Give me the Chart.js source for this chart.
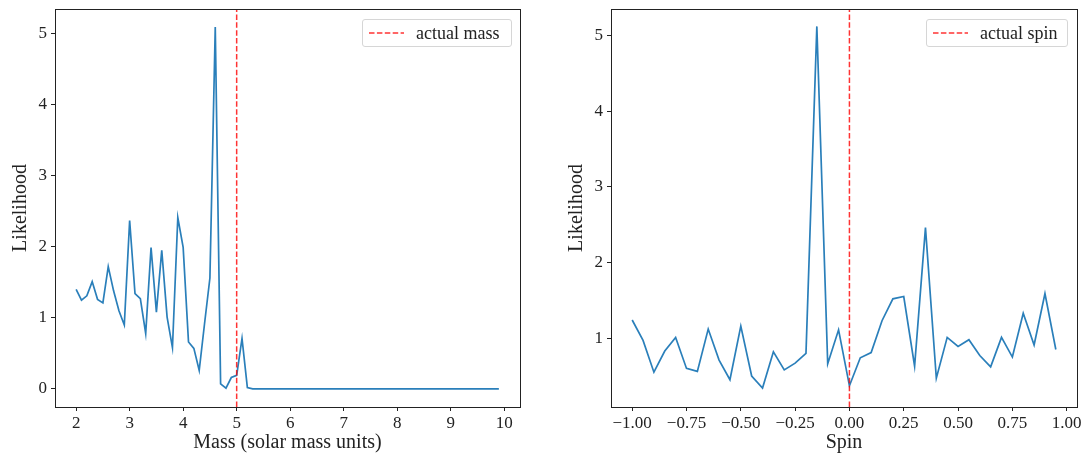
<!DOCTYPE html>
<html>
<head>
<meta charset="utf-8">
<script src="https://cdn.jsdelivr.net/npm/chart.js@4.4.1/dist/chart.umd.min.js"></script>
<style>
  body { margin: 0; background: #fff; }
  #wrap { position: relative; width: 1084px; height: 457px; overflow: hidden; }
  canvas { position: absolute; top: 0; }
  .legend {
    position: absolute; height: 28px; box-sizing: border-box;
    border: 1px solid #d6d6d6; border-radius: 3px; background: rgba(255,255,255,0.8);
    font-family: "Liberation Serif", serif; font-size: 18px; color: #222;
    display: flex; align-items: center; padding: 0 7px 0 6px; white-space: nowrap;
  }
  .legend svg { margin-right: 12px; }
</style>
</head>
<body>
<div id="wrap">
  <canvas id="massChart" width="540" height="457" style="left:0"></canvas>
  <canvas id="spinChart" width="544" height="457" style="left:540px"></canvas>
  <div class="legend" style="left:362px; top:19px; width:150px;">
    <svg width="35" height="4"><line x1="0" y1="2" x2="35" y2="2" stroke="rgba(255,0,0,0.8)" stroke-width="1.5" stroke-dasharray="5.5 2.4"/></svg>actual mass
  </div>
  <div class="legend" style="left:926px; top:19px; width:142px;">
    <svg width="35" height="4"><line x1="0" y1="2" x2="35" y2="2" stroke="rgba(255,0,0,0.8)" stroke-width="1.5" stroke-dasharray="5.5 2.4"/></svg>actual spin
  </div>
</div>
<script>
// mass grid (solar mass units)
const massValues = [
  2.0, 2.1, 2.2, 2.3, 2.4, 2.5, 2.6, 2.7, 2.8, 2.9,
  3.0, 3.1, 3.2, 3.3, 3.4, 3.5, 3.6, 3.7, 3.8, 3.9,
  4.0, 4.1, 4.2, 4.3, 4.4, 4.5, 4.6, 4.7, 4.8, 4.9,
  5.0, 5.1, 5.2, 5.3, 5.4, 5.5, 5.6, 5.7, 5.8, 5.9,
  6.0, 6.1, 6.2, 6.3, 6.4, 6.5, 6.6, 6.7, 6.8, 6.9,
  7.0, 7.1, 7.2, 7.3, 7.4, 7.5, 7.6, 7.7, 7.8, 7.9,
  8.0, 8.1, 8.2, 8.3, 8.4, 8.5, 8.6, 8.7, 8.8, 8.9,
  9.0, 9.1, 9.2, 9.3, 9.4, 9.5, 9.6, 9.7, 9.8, 9.9
];
const massLikelihood = [
  1.40, 1.25, 1.31, 1.51, 1.26, 1.21, 1.72, 1.38, 1.10, 0.90,
  2.37, 1.34, 1.27, 0.78, 1.99, 1.08, 1.95, 1.01, 0.58, 2.41,
  1.99, 0.66, 0.57, 0.26, 0.92, 1.56, 5.09, 0.07, 0.01, 0.16,
  0.19, 0.71, 0.02, 0.00, 0.00, 0.00, 0.00, 0.00, 0.00, 0.00,
  0.00, 0.00, 0.00, 0.00, 0.00, 0.00, 0.00, 0.00, 0.00, 0.00,
  0.00, 0.00, 0.00, 0.00, 0.00, 0.00, 0.00, 0.00, 0.00, 0.00,
  0.00, 0.00, 0.00, 0.00, 0.00, 0.00, 0.00, 0.00, 0.00, 0.00,
  0.00, 0.00, 0.00, 0.00, 0.00, 0.00, 0.00, 0.00, 0.00, 0.00
];
const spinValues = [
  -1.00, -0.95, -0.90, -0.85, -0.80, -0.75, -0.70, -0.65, -0.60, -0.55,
  -0.50, -0.45, -0.40, -0.35, -0.30, -0.25, -0.20, -0.15, -0.10, -0.05,
  0.00, 0.05, 0.10, 0.15, 0.20, 0.25, 0.30, 0.35, 0.40, 0.45,
  0.50, 0.55, 0.60, 0.65, 0.70, 0.75, 0.80, 0.85, 0.90, 0.95
];
const spinLikelihood = [
  1.24, 0.97, 0.55, 0.83, 1.01, 0.60, 0.56, 1.12, 0.71, 0.45,
  1.16, 0.50, 0.34, 0.82, 0.58, 0.67, 0.80, 5.12, 0.66, 1.11,
  0.37, 0.74, 0.81, 1.23, 1.52, 1.55, 0.63, 2.46, 0.47, 1.01,
  0.89, 0.98, 0.77, 0.62, 1.01, 0.75, 1.33, 0.91, 1.59, 0.85
];

const actualMass = 5;
const actualSpin = 0;

const massXTicks = [2, 3, 4, 5, 6, 7, 8, 9, 10];
const massYTicks = [0, 1, 2, 3, 4, 5];
const spinXTicks = [-1.0, -0.75, -0.5, -0.25, 0, 0.25, 0.5, 0.75, 1.0];
const spinYTicks = [1, 2, 3, 4, 5];

const FONT = "'Liberation Serif', serif";
const INK = "#222";

// draws the top and right spines
const framePlugin = {
  id: "frame",
  afterDraw(chart) {
    const { ctx, chartArea: a } = chart;
    ctx.save();
    ctx.strokeStyle = INK;
    ctx.lineWidth = 1;
    ctx.strokeRect(Math.round(a.left) + 0.5, Math.round(a.top) + 0.5,
      Math.round(a.right - a.left), Math.round(a.bottom - a.top));
    ctx.restore();
  },
};

const fmtMinus = (s) => s.replace("-", "\u2212");

const makeChart = (id, cfg) => {
  const ctx = document.getElementById(id).getContext("2d");
  const points = cfg.xs.map((x, i) => ({ x: x, y: cfg.ys[i] }));
  return new Chart(ctx, {
    type: "line",
    data: {
      datasets: [
        {
          label: cfg.markerLabel,
          data: [{ x: cfg.marker, y: cfg.yMin }, { x: cfg.marker, y: cfg.yMax }],
          borderColor: "rgba(255, 0, 0, 0.8)",
          borderWidth: 1.5,
          borderDash: [5.5, 2.4],
          pointRadius: 0,
          order: 0,
        },
        {
          label: "likelihood",
          data: points,
          borderColor: "#2a7fba",
          borderWidth: 1.7,
          pointRadius: 0,
          tension: 0,
          fill: false,
          order: 1,
        },
      ],
    },
    options: {
      responsive: false,
      animation: false,
      layout: { padding: { left: 0, right: cfg.padRight, top: 9, bottom: 0 } },
      plugins: {
        legend: { display: false },
        tooltip: { enabled: false },
      },
      scales: {
        x: {
          type: "linear",
          min: cfg.xMin,
          max: cfg.xMax,
          afterBuildTicks: (scale) => {
            scale.ticks = cfg.xTicks.map((v) => ({ value: v }));
          },
          afterFit: (scale) => {
            scale.height = 50;
            scale.paddingLeft = 0;
            scale.paddingRight = 0;
          },
          grid: {
            drawOnChartArea: false,
            drawTicks: true,
            tickLength: 4,
            color: INK,
          },
          border: { display: true, color: INK, width: 1 },
          ticks: {
            color: INK,
            padding: 2,
            maxRotation: 0,
            autoSkip: false,
            font: { family: FONT, size: 17 },
            callback: cfg.xFormat,
          },
          title: {
            display: true,
            text: cfg.xTitle,
            color: INK,
            font: { family: FONT, size: 20 },
            padding: { top: 0, bottom: 2 },
          },
        },
        y: {
          type: "linear",
          min: cfg.yMin,
          max: cfg.yMax,
          afterBuildTicks: (scale) => {
            scale.ticks = cfg.yTicks.map((v) => ({ value: v }));
          },
          afterFit: (scale) => {
            scale.width = cfg.yWidth;
            scale.paddingTop = 0;
            scale.paddingBottom = 0;
          },
          grid: {
            drawOnChartArea: false,
            drawTicks: true,
            tickLength: 4,
            color: INK,
          },
          border: { display: true, color: INK, width: 1 },
          ticks: {
            color: INK,
            padding: 4,
            autoSkip: false,
            font: { family: FONT, size: 17 },
            callback: (v) => String(v),
          },
          title: {
            display: true,
            text: "Likelihood",
            color: INK,
            font: { family: FONT, size: 20 },
            padding: { top: cfg.yTitlePad, bottom: 0 },
          },
        },
      },
    },
    plugins: [framePlugin],
  });
};

makeChart("massChart", {
  xs: massValues,
  ys: massLikelihood,
  marker: actualMass,
  markerLabel: "actual mass",
  xMin: 1.605,
  xMax: 10.295,
  yMin: -0.2545,
  yMax: 5.345,
  xTicks: massXTicks,
  yTicks: massYTicks,
  xTitle: "Mass (solar mass units)",
  xFormat: (v) => String(v),
  yWidth: 55,
  yTitlePad: 9,
  padRight: 20,
});

makeChart("spinChart", {
  xs: spinValues,
  ys: spinLikelihood,
  marker: actualSpin,
  markerLabel: "actual spin",
  xMin: -1.0975,
  xMax: 1.0475,
  yMin: 0.09,
  yMax: 5.35,
  xTicks: spinXTicks,
  yTicks: spinYTicks,
  xTitle: "Spin",
  xFormat: (v) => fmtMinus(Number(v).toFixed(2)),
  yWidth: 71,
  yTitlePad: 25,
  padRight: 7,
});
</script>
</body>
</html>
